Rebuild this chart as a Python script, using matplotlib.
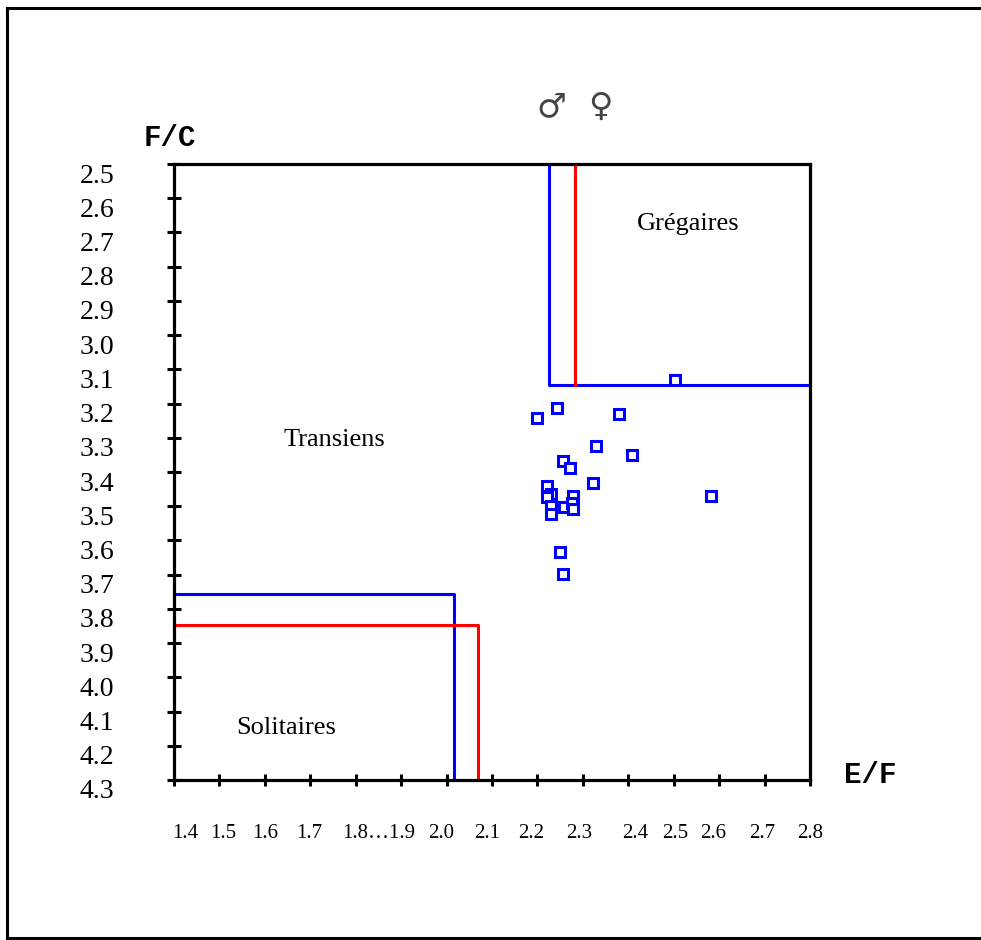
import matplotlib
matplotlib.use("Agg")
import matplotlib.pyplot as plt
import matplotlib.transforms as mtransforms
from matplotlib.lines import Line2D
import numpy as np

# ---- data ----
ef_values = [2.503, 2.244, 2.200, 2.380, 2.330, 2.409, 2.257, 2.272, 2.323, 2.222,
             2.582, 2.229, 2.222, 2.229, 2.229, 2.258, 2.279, 2.277, 2.279, 2.250, 2.257]
fc_values = [3.131, 3.213, 3.241, 3.231, 3.323, 3.351, 3.368, 3.387, 3.433, 3.440,
             3.469, 3.464, 3.472, 3.499, 3.522, 3.503, 3.469, 3.490, 3.508, 3.633, 3.697]

# thresholds (male = blue, female = red)
male_ef_low, male_fc_low = 2.017, 3.757
female_ef_low, female_fc_low = 2.069, 3.848
male_ef_high, male_fc_high = 2.226, 3.146
female_ef_high = 2.283

x_ticks = [1.4, 1.5, 1.6, 1.7, 1.8, 1.9, 2.0, 2.1, 2.2, 2.3, 2.4, 2.5, 2.6, 2.7, 2.8]
# where the x labels sit in the picture (they are not exactly under the ticks)
x_label_pos = [1.424, 1.508, 1.600, 1.697, 1.851, 1.988, 2.089, 2.186, 2.292,
               2.415, 2.503, 2.587, 2.694, 2.800]
x_label_txt = ["1.4", "1.5", "1.6", "1.7", "1.8\u20261.9", "2.0", "2.1", "2.2", "2.3",
               "2.4", "2.5", "2.6", "2.7", "2.8"]
y_ticks = [2.5, 2.6, 2.7, 2.8, 2.9, 3.0, 3.1, 3.2, 3.3, 3.4, 3.5, 3.6, 3.7, 3.8,
           3.9, 4.0, 4.1, 4.2, 4.3]
y_label_txt = ["%.1f" % v for v in y_ticks]

regions = ["Gr\u00e9gaires", "Transiens", "Solitaires"]
region_x = [2.531, 1.754, 1.647]
region_y = [2.675, 3.306, 4.148]

serif = "Liberation Serif"

fig = plt.figure(figsize=(9.81, 9.40), dpi=100)
ax = fig.add_axes([174 / 981, 1 - 780 / 940, 636 / 981, 616 / 940])

for s in ax.spines.values():
    s.set_linewidth(2.3)
    s.set_color("black")

# ticks
ax.xaxis.remove_overlapping_locs = False
ax.set_xticks(x_ticks)
ax.set_xticklabels([""] * len(x_ticks))
ax.tick_params(axis="x", which="major", direction="inout", length=9, width=2.2)
ax.set_xticks(x_label_pos, minor=True)
ax.set_xticklabels(x_label_txt, minor=True, fontfamily=serif, fontsize=15)
ax.tick_params(axis="x", which="minor", length=0, pad=32)

ax.set_yticks(y_ticks)
ax.set_yticklabels(y_label_txt, fontfamily=serif, fontsize=20)
ax.tick_params(axis="y", which="major", direction="inout", length=10, width=2.2, pad=38)
ax.yaxis.set_minor_locator(matplotlib.ticker.NullLocator())
offset = mtransforms.ScaledTranslation(0, -9 / 100, fig.dpi_scale_trans)
for lab in ax.get_yticklabels():
    lab.set_transform(lab.get_transform() + offset)

# limits after ticks
ax.set_xlim(1.4, 2.8)
ax.set_ylim(4.3, 2.5)

# threshold lines
ax.plot([male_ef_high, male_ef_high, 2.8], [2.5, male_fc_high, male_fc_high],
        color="#0000ff", lw=2.2, clip_on=False)
ax.plot([female_ef_high, female_ef_high], [2.5, male_fc_high],
        color="#ff0000", lw=2.2, clip_on=False)
ax.plot([1.4, male_ef_low, male_ef_low], [male_fc_low, male_fc_low, 4.3],
        color="#0000ff", lw=2.2, clip_on=False)
ax.plot([1.4, female_ef_low, female_ef_low], [female_fc_low, female_fc_low, 4.3],
        color="#ff0000", lw=2.2, clip_on=False)

# points
ax.plot(ef_values, fc_values, linestyle="none", marker="s", markersize=7.5,
        markerfacecolor="white", markeredgecolor="#0000ff", markeredgewidth=2.2, zorder=5)

# region labels
for t, x, y in zip(regions, region_x, region_y):
    ax.text(x, y, t, fontfamily=serif, fontsize=19, ha="center", va="center")

# axis titles
ax.text(1.391, 2.424, "F/C", fontfamily="Liberation Mono", fontweight="bold",
        fontsize=21, ha="center", va="center", clip_on=False)
ax.text(2.932, 4.285, "E/F", fontfamily="Liberation Mono", fontweight="bold",
        fontsize=21, ha="center", va="center", clip_on=False)

# sex symbols
ax.text(2.230, 2.333, "\u2642", fontfamily="DejaVu Sans", fontsize=24, color="#444444",
        ha="center", va="center", clip_on=False)
ax.text(2.338, 2.333, "\u2640", fontfamily="DejaVu Sans", fontsize=24, color="#444444",
        ha="center", va="center", clip_on=False)

# outer frame (left, top, bottom)
fl = 6.5 / 981
ft = 1 - 7.5 / 940
fb = 1 - 937.5 / 940
fig.add_artist(Line2D([fl, fl], [fb, ft], color="black", lw=2.2, transform=fig.transFigure))
fig.add_artist(Line2D([fl, 1.0], [ft, ft], color="black", lw=2.2, transform=fig.transFigure))
fig.add_artist(Line2D([fl, 1.0], [fb, fb], color="black", lw=2.2, transform=fig.transFigure))

fig.savefig("out.png", dpi=100, facecolor="white")
